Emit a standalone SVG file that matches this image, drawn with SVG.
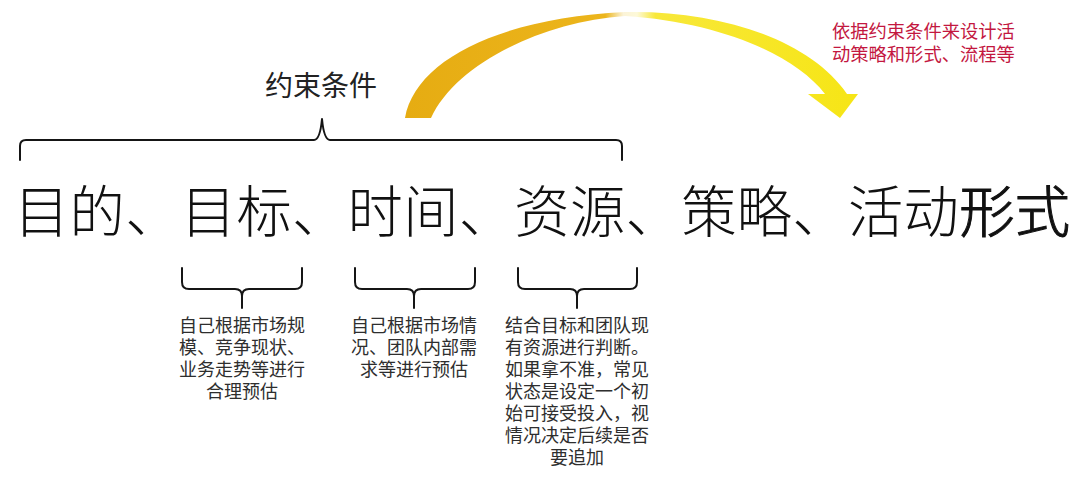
<svg xmlns="http://www.w3.org/2000/svg" width="1080" height="478" viewBox="0 0 1080 478">
<defs>
<linearGradient id="arcGrad" gradientUnits="userSpaceOnUse" x1="405" y1="0" x2="860" y2="0">
<stop offset="0" stop-color="#E6AC12"/>
<stop offset="0.44" stop-color="#ECB51C"/>
<stop offset="0.48" stop-color="#FBF3D8"/>
<stop offset="0.51" stop-color="#FDF9D8"/>
<stop offset="0.55" stop-color="#F8E83A"/>
<stop offset="1" stop-color="#F6E515"/>
</linearGradient>
<style>
.cjk{font-family:"Noto Sans CJK SC","Noto Sans",sans-serif;}
.main{font-size:55.3px;fill:#111;font-weight:300;letter-spacing:0.3px;}
.label{font-size:28px;fill:#222;text-anchor:middle;}
.note{font-size:18px;fill:#2e2e2e;text-anchor:middle;}
.red{font-size:18.3px;fill:#C3173F;}
.brace{fill:none;stroke:#151515;stroke-width:2;stroke-linecap:round;stroke-linejoin:round;}
</style>
</defs>
<rect width="1080" height="478" fill="#ffffff"/>

<g id="arc-arrow">
<path fill="url(#arcGrad)" d="M405,118 C415,60 500,18 625,12 C720,10 810,40 847,94 L858,94 L840,118 L808,94 L825,94 C795,55 720,22 625,16 C540,22 455,65 431,118 Z"/>
</g>

<g id="note-strategy">
<text class="cjk red" x="832" y="38">依据约束条件来设计活</text>
<text class="cjk red" x="832" y="61">动策略和形式、流程等</text>
</g>

<g id="constraint-label">
<text class="cjk label" x="321" y="96">约束条件</text>
</g>

<g id="connectors">
<path class="brace" d="M20,160 V146 Q20,140 26,140 H314 Q320,140 322,119 Q324,140 330,140 H616 Q622,140 622,146 V160"/>
<path class="brace" d="M182,268 V282 Q182,289 189,289 H235 Q242,289 242,296 V308 M242,296 Q242,289 249,289 H295 Q302,289 302,282 V268"/>
<path class="brace" d="M355,268 V282 Q355,289 362,289 H407 Q414,289 414,296 V308 M414,296 Q414,289 421,289 H468 Q475,289 475,282 V268"/>
<path class="brace" d="M518,268 V282 Q518,289 525,289 H570 Q577,289 577,296 V308 M577,296 Q577,289 584,289 H630 Q637,289 637,282 V268"/>
</g>

<g id="main-title">
<text class="cjk main" x="14" y="232">目的、目标、时间、资源、策略、活动<tspan stroke="#111" stroke-width="1">形式</tspan></text>
</g>

<g id="note-target">
<text class="cjk note" x="242" y="332">自己根据市场规</text>
<text class="cjk note" x="242" y="354">模、竞争现状、</text>
<text class="cjk note" x="242" y="376">业务走势等进行</text>
<text class="cjk note" x="242" y="398">合理预估</text>
</g>

<g id="note-time">
<text class="cjk note" x="414" y="332">自己根据市场情</text>
<text class="cjk note" x="414" y="354">况、团队内部需</text>
<text class="cjk note" x="414" y="376">求等进行预估</text>
</g>

<g id="note-resource">
<text class="cjk note" x="577" y="332">结合目标和团队现</text>
<text class="cjk note" x="577" y="354">有资源进行判断。</text>
<text class="cjk note" x="577" y="376">如果拿不准，常见</text>
<text class="cjk note" x="577" y="398">状态是设定一个初</text>
<text class="cjk note" x="577" y="420">始可接受投入，视</text>
<text class="cjk note" x="577" y="442">情况决定后续是否</text>
<text class="cjk note" x="577" y="464">要追加</text>
</g>
</svg>
